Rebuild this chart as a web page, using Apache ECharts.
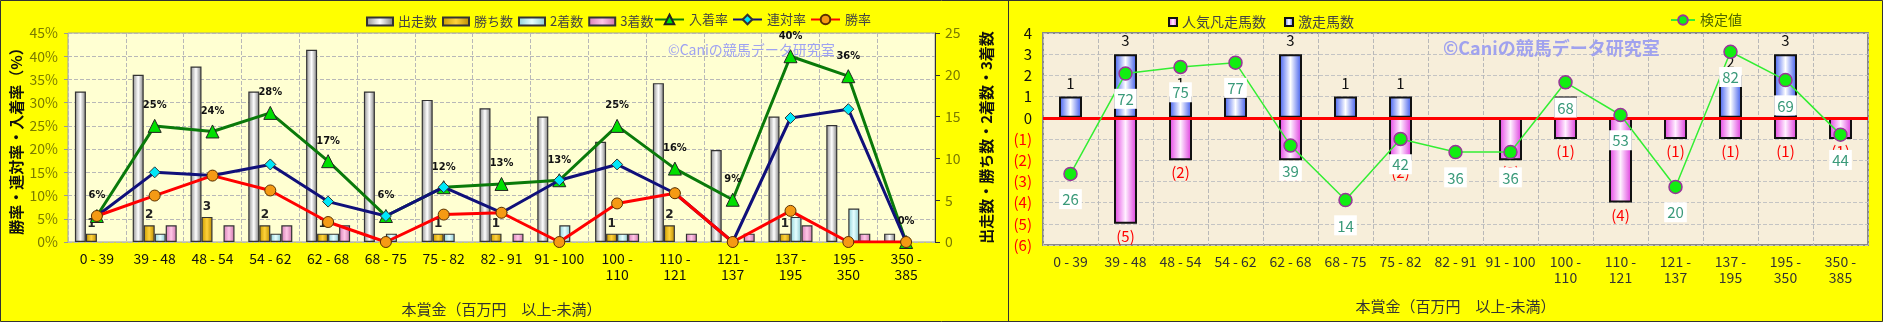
<!DOCTYPE html>
<html>
<head>
<meta charset="utf-8">
<script src="https://cdn.jsdelivr.net/npm/echarts@6/dist/echarts.min.js"></script>
<style>
html,body{margin:0;padding:0;background:#FFFF00;}
#c{width:1883px;height:322px;}
</style>
</head>
<body>
<div id="c"></div>
<script>
// ---- data ----
const categories = ['0 - 39','39 - 48','48 - 54','54 - 62','62 - 68','68 - 75','75 - 82','82 - 91','91 - 100','100 - 110','110 - 121','121 - 137','137 - 195','195 - 350','350 - 385'];
const runs    = [18,20,21,18,23,18,17,16,15,12,19,11,15,14,1];
const wins    = [1,2,3,2,1,0,1,1,0,1,2,0,1,0,0];
const seconds = [0,1,0,1,1,1,1,0,2,1,0,0,3,4,0];
const thirds  = [0,2,2,2,2,0,0,1,0,1,1,1,2,1,0];
const placeRate  = [5.6,25.0,23.8,27.8,17.4,5.6,11.8,12.5,13.3,25.0,15.8,9.1,40.0,35.7,0];
const rentaiRate = [5.6,15.0,14.3,16.7,8.7,5.6,11.8,6.3,13.3,16.7,10.5,0,26.7,28.6,0];
const winRate    = [5.6,10.0,14.3,11.1,4.3,0,5.9,6.3,0,8.3,10.5,0,6.7,0,0];
const surge = [1,3,1,1,3,1,1,0,0,1,0,0,2,3,0];          // 激走馬数
const flop  = [0,-5,-2,0,-2,0,-2,0,-2,-1,-4,-1,-1,-1,-1]; // 人気凡走馬数
const testValue = [26,72,75,77,39,14,42,36,36,68,53,20,82,69,44]; // 検定値

const JP = '"Noto Sans CJK JP", sans-serif';
const nz = a => a.map(v => v === 0 ? '-' : v);
const hgrad = (a, b, c) => ({type:'linear', x:0, y:0, x2:1, y2:0, colorStops:[{offset:0,color:a},{offset:0.5,color:b},{offset:1,color:c}]});
const wrapCat = v => { const p = v.split(' - '); return Number(p[0]) >= 100 ? p[0] + ' -\n' + p[1] : v; };

const chart = echarts.init(document.getElementById('c'));
const xBase = {
  type:'category', data:categories,
  axisTick:{show:false}, axisLine:{show:false},
  axisLabel:{interval:0, formatter:wrapCat, fontSize:14, lineHeight:16, fontFamily:JP},
  splitLine:{show:true, interval:0, lineStyle:{color:'#b8b8b8', type:'dashed', width:1}},
  name:'本賞金（百万円　以上-未満）', nameLocation:'middle',
  nameTextStyle:{fontSize:15, color:'#333', fontFamily:JP}
};

chart.setOption({
  backgroundColor:'#FFFF00',
  animation:false,
  textStyle:{fontFamily:JP},
  grid:[
    {left:68, top:33, width:867, height:211, show:true, backgroundColor:'#FFFFD2', borderColor:'#a0a0a0', borderWidth:1},
    {left:1043, top:33, width:825, height:212, show:true, backgroundColor:'#F7EEDA', borderColor:'#8a8a8a', borderWidth:2}
  ],
  legend:[
    {data:['出走数','勝ち数','2着数','3着数'], left:361, top:10, itemWidth:26, itemHeight:8, itemGap:5, icon:'rect',
     textStyle:{fontSize:13, color:'#444', fontFamily:JP}},
    {data:['入着率','連対率','勝率'], left:649, top:8, itemWidth:29, itemHeight:12, itemGap:4,
     textStyle:{fontSize:13, color:'#444', fontFamily:JP}},
    {data:['人気凡走馬数','激走馬数'], left:1163, top:10, itemWidth:8, itemHeight:8, itemGap:18, icon:'rect',
     textStyle:{fontSize:14, color:'#444', fontFamily:JP}},
    {data:['検定値'], left:1665, top:8, itemWidth:24, itemHeight:12,
     textStyle:{fontSize:14, color:'#4d6600', fontFamily:JP}}
  ],
  xAxis:[
    Object.assign({}, xBase, {gridIndex:0, nameGap:60, axisLabel:Object.assign({}, xBase.axisLabel, {color:'#111', margin:9})}),
    Object.assign({}, xBase, {gridIndex:1, nameGap:54, axisLabel:Object.assign({}, xBase.axisLabel, {color:'#333', margin:9})})
  ],
  yAxis:[
    {gridIndex:0, type:'value', min:0, max:45, interval:5,
     axisLabel:{formatter:'{value}%', color:'#7a7a00', fontSize:14, margin:10},
     axisLine:{show:false}, axisTick:{show:true, length:4, lineStyle:{color:'#999'}},
     splitLine:{show:true, lineStyle:{color:'#b8b8b8', type:'dashed'}},
     name:'勝率・連対率・入着率（%）', nameLocation:'middle', nameGap:44, nameRotate:90,
     nameTextStyle:{fontSize:15, fontWeight:'bold', color:'#111', fontFamily:JP}},
    {gridIndex:0, type:'value', position:'right', min:0, max:25, interval:5,
     axisLabel:{color:'#7a7a00', fontSize:14, margin:10},
     axisLine:{show:true, lineStyle:{color:'#333', width:1}}, axisTick:{show:true, length:5, lineStyle:{color:'#333'}},
     splitLine:{show:false},
     name:'出走数・勝ち数・2着数・3着数', nameLocation:'middle', nameGap:44, nameRotate:90,
     nameTextStyle:{fontSize:15, fontWeight:'bold', color:'#111', fontFamily:JP}},
    {gridIndex:1, type:'value', min:-6, max:4, interval:1,
     axisLabel:{fontSize:15, margin:11,
       formatter:v => v < 0 ? '{n|(' + (-v) + ')}' : '{p|' + v + '}',
       rich:{n:{color:'#ff0000', fontSize:15, fontFamily:JP}, p:{color:'#111', fontSize:15, fontFamily:JP}}},
     axisLine:{show:false}, axisTick:{show:false},
     splitLine:{show:true, lineStyle:{color:'#c4c4c4', type:'dashed'}}},
    {gridIndex:1, type:'value', min:-6.6, max:90.6, show:false}
  ],
  graphic:[
    {type:'text', left:668, top:43, z:1, silent:true,
     style:{text:'©Caniの競馬データ研究室', fill:'#9ea2f2', font:'14px "Noto Sans CJK JP"'}},
    {type:'text', left:1443, top:39, z:1, silent:true,
     style:{text:'©Caniの競馬データ研究室', fill:'#a0a2ee', font:'bold 18px "Noto Sans CJK JP"'}},
    {type:'rect', z:100, silent:true, shape:{x:0.5, y:0.5, width:1882, height:321}, style:{fill:null, stroke:'#333', lineWidth:1}},
    {type:'line', z:100, silent:true, shape:{x1:1008.5, y1:0, x2:1008.5, y2:322}, style:{stroke:'#333', lineWidth:1}}
  ],
  series:[
    {name:'出走数', type:'bar', xAxisIndex:0, yAxisIndex:1, data:nz(runs), barWidth:11, barGap:'0%',
     itemStyle:{color:hgrad('#8e8e8e','#ffffff','#7a7a7a'), borderColor:'#333', borderWidth:1.2}},
    {name:'勝ち数', type:'bar', xAxisIndex:0, yAxisIndex:1, data:nz(wins), barWidth:11, barGap:'0%',
     itemStyle:{color:hgrad('#c89a00','#ffd23a','#b88a00'), borderColor:'#333', borderWidth:1.2},
     label:{show:true, position:'top', distance:4, fontSize:12, fontWeight:'bold', color:'#222', fontFamily:'DejaVu Sans'}},
    {name:'2着数', type:'bar', xAxisIndex:0, yAxisIndex:1, data:nz(seconds), barWidth:11, barGap:'0%',
     itemStyle:{color:hgrad('#8fd0d8','#e6ffff','#88c6ce'), borderColor:'#333', borderWidth:1.2}},
    {name:'3着数', type:'bar', xAxisIndex:0, yAxisIndex:1, data:nz(thirds), barWidth:11, barGap:'0%',
     itemStyle:{color:hgrad('#d77fb6','#ffc6e6','#cc72a8'), borderColor:'#333', borderWidth:1.2}},
    {name:'入着率', type:'line', xAxisIndex:0, yAxisIndex:0, data:placeRate, z:3,
     lineStyle:{color:'#0a7a0a', width:3}, symbol:'triangle', symbolSize:13,
     itemStyle:{color:'#00e000', borderColor:'#222', borderWidth:1},
     label:{show:true, position:'top', distance:8, formatter:p => Math.round(p.value) + '%', fontSize:11, fontWeight:'bold', color:'#111', fontFamily:'DejaVu Sans Condensed, DejaVu Sans'}},
    {name:'連対率', type:'line', xAxisIndex:0, yAxisIndex:0, data:rentaiRate, z:4,
     lineStyle:{color:'#10107a', width:3}, symbol:'diamond', symbolSize:11,
     itemStyle:{color:'#00e8f8', borderColor:'#333', borderWidth:1}},
    {name:'勝率', type:'line', xAxisIndex:0, yAxisIndex:0, data:winRate, z:5,
     lineStyle:{color:'#ff0000', width:3}, symbol:'circle', symbolSize:11,
     itemStyle:{color:'#f59a14', borderColor:'#5a3000', borderWidth:1}},

    {name:'人気凡走馬数', type:'bar', xAxisIndex:1, yAxisIndex:2, data:nz(flop), barWidth:23, barGap:'-100%',
     itemStyle:{color:hgrad('#e23ce2','#fff0ff','#dc34dc'), borderColor:'#111', borderWidth:2},
     label:{show:true, position:'bottom', distance:5, formatter:p => '(' + (-p.value) + ')', fontSize:15, color:'#ff0000'}},
    {name:'激走馬数', type:'bar', xAxisIndex:1, yAxisIndex:2, data:nz(surge), barWidth:23, barGap:'-100%',
     itemStyle:{color:hgrad('#3a58ee','#ffffff','#3452ea'), borderColor:'#111', borderWidth:2},
     label:{show:true, position:'top', distance:6, fontSize:15, color:'#111'},
     markLine:{silent:true, symbol:'none', label:{show:false}, data:[{yAxis:0}],
       lineStyle:{color:'#ff0000', width:3, type:'solid'}}},
    {name:'検定値', type:'line', xAxisIndex:1, yAxisIndex:3, data:testValue, z:5,
     lineStyle:{color:'#33ee33', width:1.5}, symbol:'circle', symbolSize:13,
     itemStyle:{color:'#11ee11', borderColor:'#993399', borderWidth:1.5},
     label:{show:true, position:'bottom', distance:8, fontSize:15, color:'#3a9a7a', backgroundColor:'#ffffff', padding:[3,3,2,3]}}
  ]
});
</script>
</body>
</html>
